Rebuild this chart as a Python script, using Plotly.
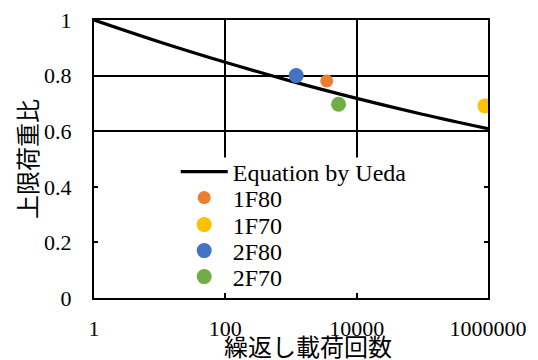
import plotly.graph_objects as go

# Equation by Ueda
ueda_n = [1, 10, 100, 1000, 10000, 100000, 1000000]
ueda_s = [1.0, 0.921, 0.848, 0.780, 0.718, 0.661, 0.609]

# Test series
series_names = ["1F80", "1F70", "2F80", "2F70"]
series_n = [[3500], [900000], [1200], [5300]]
series_s = [[0.781], [0.691], [0.800], [0.697]]
series_colors = ["#ED7D31", "#FFC000", "#4472C4", "#70AD47"]
series_sizes = [13, 15, 15, 15]

x_tickvals = [1, 100, 10000, 1000000]
x_ticktext = ["1", "100", "10000", "1000000"]
y_tickvals = [0, 0.2, 0.4, 0.6, 0.8, 1.0]
y_ticktext = ["0", "0.2", "0.4", "0.6", "0.8", "1"]

SERIF = "Liberation Serif"
CJK = "Noto Sans CJK JP"

fig = go.Figure()
fig.add_trace(go.Scatter(x=ueda_n, y=ueda_s, mode="lines", name="Equation by Ueda",
                         line=dict(color="black", width=3.2, shape="spline"),
                         legend="legend"))
legend_keys = ["legend2", "legend3", "legend4", "legend5"]
for name, xs, ys, c, sz, lk in zip(series_names, series_n, series_s, series_colors, series_sizes, legend_keys):
    fig.add_trace(go.Scatter(x=xs, y=ys, mode="markers", name=name,
                             marker=dict(color=c, size=sz, line=dict(width=0)),
                             legend=lk))

H = 278.0
def py(p):
    return (298 - p) / H

leg_common = dict(bgcolor="rgba(0,0,0,0)", borderwidth=0, itemwidth=47,
                  font=dict(family=SERIF, size=24, color="black"),
                  xanchor="left", yanchor="middle", x=0.2074)
legend_pix = [172, 198, 225, 251, 277]
layout_legends = {}
for key, p in zip(["legend"] + legend_keys, legend_pix):
    layout_legends[key] = dict(leg_common, y=py(p))

fig.update_layout(
    width=538, height=360,
    margin=dict(l=94, r=50, t=20, b=62, autoexpand=False),
    paper_bgcolor="white", plot_bgcolor="white",
    showlegend=True,
    **layout_legends,
    xaxis=dict(type="log", range=[0, 6], tickvals=x_tickvals, ticktext=x_ticktext,
               showgrid=True, gridcolor="black", gridwidth=1.5,
               showline=True, linecolor="black", linewidth=2, mirror="ticks",
               ticks="inside", ticklen=5, tickwidth=1.5, tickcolor="black",
               tickfont=dict(family=SERIF, size=22, color="black"),
               ticklabelstandoff=10, zeroline=False, automargin=False),
    yaxis=dict(range=[0, 1], tickvals=y_tickvals, ticktext=y_ticktext,
               showgrid=True, gridcolor="black", gridwidth=1.5,
               showline=True, linecolor="black", linewidth=2, mirror="ticks",
               ticks="inside", ticklen=4, tickwidth=1.5, tickcolor="black",
               tickfont=dict(family=SERIF, size=22, color="black"),
               ticklabelstandoff=16, zeroline=False, automargin=False,
               title=dict(text="上限荷重比", font=dict(family=CJK, size=24, color="black"),
                          standoff=0)),
    shapes=[dict(type="rect", xref="x", yref="y", x0=1, x1=1000000, y0=0, y1=0.505,
                 fillcolor="white", line=dict(width=0), layer="between")],
    annotations=[dict(text="繰返し載荷回数", xref="paper", yref="paper",
                      x=(307.5 - 94) / 394, y=(298 - 345) / H, xanchor="center", yanchor="middle",
                      showarrow=False, font=dict(family=CJK, size=24, color="black"))],
)

fig.write_html("out.html", config={"displayModeBar": False},
               post_script="document.body.style.margin='0';document.body.style.padding='0';")
